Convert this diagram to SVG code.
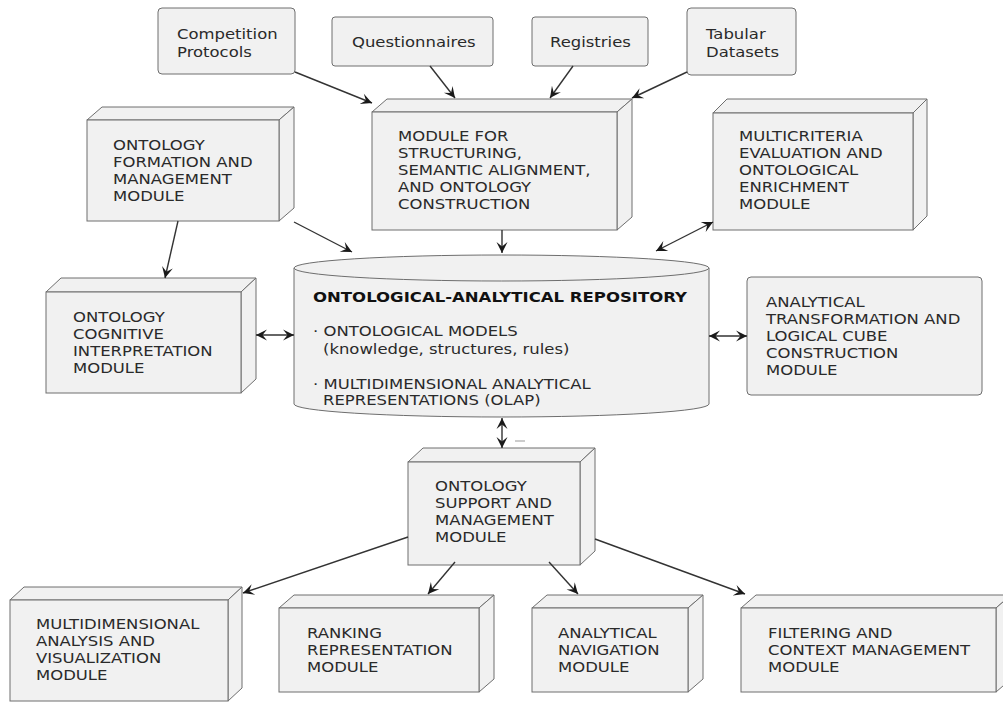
<svg xmlns="http://www.w3.org/2000/svg" width="1003" height="702" viewBox="0 0 1003 702">
<style>
.box{fill:#F1F1F1;stroke:#6e6e6e;stroke-width:1}
.t{font-family:"DejaVu Sans","Liberation Sans",sans-serif;font-size:14px;fill:#2a2a2a}
.b{font-weight:bold;fill:#111}
.c{stroke:#333;stroke-width:1.4;fill:none}
</style>
<defs>
<marker id="ah" viewBox="-12 -6 13 12" refX="0" refY="0" markerWidth="13" markerHeight="12" markerUnits="userSpaceOnUse" orient="auto-start-reverse">
<path d="M0,0 L-11,-5.5 L-6.5,0 L-11,5.5 Z" fill="#1a1a1a"/>
</marker>
</defs>
<rect width="1003" height="702" fill="#fff"/>

<g id="competition">
<rect class="box" x="158" y="8" width="137" height="66" rx="4"/>
<g transform="translate(177 0) scale(1.175 1)">
<text class="t" x="0" y="39">Competition</text>
<text class="t" x="0" y="57">Protocols</text>
</g>
</g>
<g id="questionnaires">
<rect class="box" x="332" y="17" width="161" height="49" rx="3"/>
<g transform="translate(352 0) scale(1.175 1)">
<text class="t" x="0" y="47">Questionnaires</text>
</g>
</g>
<g id="registries">
<rect class="box" x="532" y="17" width="116" height="49" rx="3"/>
<g transform="translate(550 0) scale(1.175 1)">
<text class="t" x="0" y="47">Registries</text>
</g>
</g>
<g id="tabular">
<rect class="box" x="687" y="8" width="109" height="67" rx="4"/>
<g transform="translate(706 0) scale(1.175 1)">
<text class="t" x="0" y="39">Tabular</text>
<text class="t" x="0" y="57">Datasets</text>
</g>
</g>

<g id="structuring">
<path class="box" d="M372,112 L387,99 L632,99 L617,112 Z"/>
<path class="box" d="M617,112 L632,99 L632,217 L617,230 Z"/>
<rect class="box" x="372" y="112" width="245" height="118"/>
<g transform="translate(398 0) scale(1.175 1)">
<text class="t" x="0" y="141">MODULE FOR</text>
<text class="t" x="0" y="158">STRUCTURING,</text>
<text class="t" x="0" y="175">SEMANTIC ALIGNMENT,</text>
<text class="t" x="0" y="192">AND ONTOLOGY</text>
<text class="t" x="0" y="209">CONSTRUCTION</text>
</g>
</g>

<g id="formation">
<path class="box" d="M87,120 L102,107 L294,107 L279,120 Z"/>
<path class="box" d="M279,120 L294,107 L294,208 L279,221 Z"/>
<rect class="box" x="87" y="120" width="192" height="101"/>
<g transform="translate(113 0) scale(1.175 1)">
<text class="t" x="0" y="150">ONTOLOGY</text>
<text class="t" x="0" y="167">FORMATION AND</text>
<text class="t" x="0" y="184">MANAGEMENT</text>
<text class="t" x="0" y="201">MODULE</text>
</g>
</g>

<g id="multicriteria">
<path class="box" d="M713,113 L727,99 L927,99 L913,113 Z"/>
<path class="box" d="M913,113 L927,99 L927,216 L913,230 Z"/>
<rect class="box" x="713" y="113" width="200" height="117"/>
<g transform="translate(739 0) scale(1.175 1)">
<text class="t" x="0" y="141">MULTICRITERIA</text>
<text class="t" x="0" y="158">EVALUATION AND</text>
<text class="t" x="0" y="175">ONTOLOGICAL</text>
<text class="t" x="0" y="192">ENRICHMENT</text>
<text class="t" x="0" y="209">MODULE</text>
</g>
</g>

<g id="cognitive">
<path class="box" d="M46,292 L61,278 L256,278 L241,292 Z"/>
<path class="box" d="M241,292 L256,278 L256,379 L241,393 Z"/>
<rect class="box" x="46" y="292" width="195" height="101"/>
<g transform="translate(73 0) scale(1.175 1)">
<text class="t" x="0" y="322">ONTOLOGY</text>
<text class="t" x="0" y="339">COGNITIVE</text>
<text class="t" x="0" y="356">INTERPRETATION</text>
<text class="t" x="0" y="373">MODULE</text>
</g>
</g>

<g id="repository">
<path class="box" d="M294,268 A207.5,13 0 0 1 709,268 L709,404 A207.5,13 0 0 1 294,404 Z"/>
<path class="box" d="M294,268 A207.5,13 0 0 0 709,268" fill="none"/>
<g transform="translate(313 0) scale(1.18 1)">
<text class="t b" x="0" y="302">ONTOLOGICAL-ANALYTICAL REPOSITORY</text>
</g>
<g transform="translate(313 0) scale(1.175 1)">
<text class="t" x="0" y="336">· ONTOLOGICAL MODELS</text>
<text class="t" x="8.5" y="354">(knowledge, structures, rules)</text>
<text class="t" x="0" y="389">· MULTIDIMENSIONAL ANALYTICAL</text>
<text class="t" x="8.5" y="405">REPRESENTATIONS (OLAP)</text>
</g>
</g>

<g id="transformation">
<rect class="box" x="747" y="277" width="235" height="118" rx="4"/>
<g transform="translate(766 0) scale(1.175 1)">
<text class="t" x="0" y="307">ANALYTICAL</text>
<text class="t" x="0" y="324">TRANSFORMATION AND</text>
<text class="t" x="0" y="341">LOGICAL CUBE</text>
<text class="t" x="0" y="358">CONSTRUCTION</text>
<text class="t" x="0" y="375">MODULE</text>
</g>
</g>

<g id="support">
<path class="box" d="M408,462 L423,448 L595,448 L580,462 Z"/>
<path class="box" d="M580,462 L595,448 L595,551 L580,565 Z"/>
<rect class="box" x="408" y="462" width="172" height="103"/>
<g transform="translate(435 0) scale(1.175 1)">
<text class="t" x="0" y="491">ONTOLOGY</text>
<text class="t" x="0" y="508">SUPPORT AND</text>
<text class="t" x="0" y="525">MANAGEMENT</text>
<text class="t" x="0" y="542">MODULE</text>
</g>
</g>

<g id="multidimensional">
<path class="box" d="M10,600 L24,587 L242,587 L228,600 Z"/>
<path class="box" d="M228,600 L242,587 L242,688 L228,701 Z"/>
<rect class="box" x="10" y="600" width="218" height="101"/>
<g transform="translate(36 0) scale(1.175 1)">
<text class="t" x="0" y="629">MULTIDIMENSIONAL</text>
<text class="t" x="0" y="646">ANALYSIS AND</text>
<text class="t" x="0" y="663">VISUALIZATION</text>
<text class="t" x="0" y="680">MODULE</text>
</g>
</g>

<g id="ranking">
<path class="box" d="M279,608 L294,595 L494,595 L479,608 Z"/>
<path class="box" d="M479,608 L494,595 L494,679 L479,692 Z"/>
<rect class="box" x="279" y="608" width="200" height="84"/>
<g transform="translate(307 0) scale(1.175 1)">
<text class="t" x="0" y="638">RANKING</text>
<text class="t" x="0" y="655">REPRESENTATION</text>
<text class="t" x="0" y="672">MODULE</text>
</g>
</g>

<g id="navigation">
<path class="box" d="M532,608 L547,595 L703,595 L688,608 Z"/>
<path class="box" d="M688,608 L703,595 L703,679 L688,692 Z"/>
<rect class="box" x="532" y="608" width="156" height="84"/>
<g transform="translate(558 0) scale(1.175 1)">
<text class="t" x="0" y="638">ANALYTICAL</text>
<text class="t" x="0" y="655">NAVIGATION</text>
<text class="t" x="0" y="672">MODULE</text>
</g>
</g>

<g id="filtering">
<path class="box" d="M741,608 L756,595 L1011,595 L996,608 Z"/>
<path class="box" d="M996,608 L1011,595 L1011,679 L996,692 Z"/>
<rect class="box" x="741" y="608" width="255" height="84"/>
<g transform="translate(768 0) scale(1.175 1)">
<text class="t" x="0" y="638">FILTERING AND</text>
<text class="t" x="0" y="655">CONTEXT MANAGEMENT</text>
<text class="t" x="0" y="672">MODULE</text>
</g>
</g>

<g id="connectors">
<line class="c" x1="295" y1="72" x2="372" y2="103" marker-end="url(#ah)"/>
<line class="c" x1="430" y1="66" x2="455" y2="98" marker-end="url(#ah)"/>
<line class="c" x1="573" y1="66" x2="550" y2="98" marker-end="url(#ah)"/>
<line class="c" x1="687" y1="72" x2="632" y2="98" marker-end="url(#ah)"/>
<line class="c" x1="178" y1="221" x2="165" y2="278" marker-end="url(#ah)"/>
<line class="c" x1="294" y1="222" x2="352" y2="252" marker-end="url(#ah)"/>
<line class="c" x1="502" y1="230" x2="502" y2="253" marker-end="url(#ah)"/>
<line class="c" x1="713" y1="222" x2="656" y2="251" marker-start="url(#ah)" marker-end="url(#ah)"/>
<line class="c" x1="256" y1="335" x2="294" y2="335" marker-start="url(#ah)" marker-end="url(#ah)"/>
<line class="c" x1="709" y1="336" x2="747" y2="336" marker-start="url(#ah)" marker-end="url(#ah)"/>
<line class="c" x1="502" y1="418" x2="502" y2="448" marker-start="url(#ah)" marker-end="url(#ah)"/>
<line class="c" x1="408" y1="537" x2="243" y2="593" marker-end="url(#ah)"/>
<line class="c" x1="455" y1="562" x2="428" y2="594" marker-end="url(#ah)"/>
<line class="c" x1="549" y1="562" x2="578" y2="594" marker-end="url(#ah)"/>
<line class="c" x1="595" y1="539" x2="745" y2="594" marker-end="url(#ah)"/>
</g>
<line x1="515" y1="441" x2="525" y2="441" stroke="#999" stroke-width="1"/>
</svg>
